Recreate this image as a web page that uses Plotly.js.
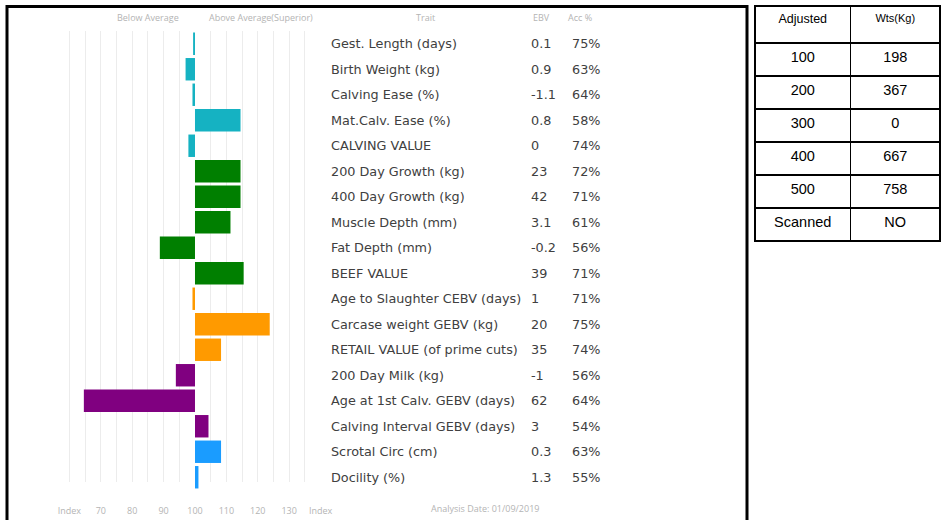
<!DOCTYPE html>
<html>
<head>
<meta charset="utf-8">
<script src="https://cdn.plot.ly/plotly-3.0.1.min.js"></script>
<style>html,body{margin:0;padding:0;background:#fff;}#chart{width:944px;height:520px;}</style>
</head>
<body>
<div id="chart"></div>
<script>
// ---- data ----
const traits = ["Gest. Length (days)", "Birth Weight (kg)", "Calving Ease (%)", "Mat.Calv. Ease (%)", "CALVING VALUE",
  "200 Day Growth (kg)", "400 Day Growth (kg)", "Muscle Depth (mm)", "Fat Depth (mm)", "BEEF VALUE",
  "Age to Slaughter CEBV (days)", "Carcase weight GEBV (kg)", "RETAIL VALUE (of prime cuts)",
  "200 Day Milk (kg)", "Age at 1st Calv. GEBV (days)", "Calving Interval GEBV (days)",
  "Scrotal Circ (cm)", "Docility (%)"];
const ebv = ["0.1", "0.9", "-1.1", "0.8", "0", "23", "42", "3.1", "-0.2", "39", "1", "20", "35", "-1", "62", "3", "0.3", "1.3"];
const acc = ["75%", "63%", "64%", "58%", "74%", "72%", "71%", "61%", "56%", "71%", "71%", "75%", "74%", "56%", "64%", "54%", "63%", "55%"];
const indexValues = [99.4, 97.0, 99.2, 114.5, 97.9, 114.5, 114.5, 111.3, 88.8, 115.5, 99.2, 123.8, 108.3, 93.9, 64.6, 104.3, 108.3, 101.1];
const groups = ["calving", "calving", "calving", "calving", "calving", "growth", "growth", "growth", "growth", "growth",
  "carcase", "carcase", "carcase", "maternal", "maternal", "maternal", "other", "other"];
const groupColors = {calving: "#15b2c2", growth: "#007f00", carcase: "#ff9a00", maternal: "#800080", other: "#1a9cff"};
const indexBase = 100;
const gridVals = [60, 65, 70, 75, 80, 85, 90, 95, 105, 110, 115, 120, 125, 130, 135];
const axisTickVals = [60, 70, 80, 90, 100, 110, 120, 130, 140];
const axisTickText = ["Index", "70", "80", "90", "100", "110", "120", "130", "Index"];
const headerLabels = ["Below Average", "Above Average(Superior)", "Trait", "EBV", "Acc %"];
const analysisDate = "Analysis Date: 01/09/2019";
const tableHeader = ["Adjusted", "Wts(Kg)"];
const tableCol1 = ["100", "200", "300", "400", "500", "Scanned"];
const tableCol2 = ["198", "367", "0", "667", "758", "NO"];

// ---- layout helpers (pixel -> paper) ----
const W = 944, H = 520;
const px = v => v / W;
const py = v => (H - v) / H;

// grid subplot (drawn first, underneath)
const gridTrace = {
  type: "scatter", mode: "lines", x: [null], y: [null],
  xaxis: "x", yaxis: "y", showlegend: false, hoverinfo: "skip"
};
// bar subplot (drawn on top)
const barTrace = {
  type: "bar", orientation: "h",
  y: traits,
  x: indexValues.map(v => v - indexBase),
  base: indexBase,
  marker: {color: groups.map(g => groupColors[g]), line: {width: 0}},
  hoverinfo: "skip",
  xaxis: "x2", yaxis: "y2"
};

const textFont = () => ({family: "DejaVu Sans, sans-serif", size: 12.8, color: "#404040"});
const headFont = () => ({family: "Open Sans, sans-serif", size: 9, color: "#b4b4b4"});
const annotations = [];
traits.forEach((t, i) => {
  annotations.push({xref: "paper", yref: "y2", x: px(329), y: t, xanchor: "left", yanchor: "middle", text: t, showarrow: false, font: textFont()});
  annotations.push({xref: "paper", yref: "y2", x: px(529), y: t, xanchor: "left", yanchor: "middle", text: ebv[i], showarrow: false, font: textFont()});
  annotations.push({xref: "paper", yref: "y2", x: px(570), y: t, xanchor: "left", yanchor: "middle", text: acc[i], showarrow: false, font: textFont()});
});
const headerX = [148, 261, 425, 541, 580];
headerLabels.forEach((h, i) => {
  annotations.push({xref: "paper", yref: "paper", x: px(headerX[i]), y: py(18), xanchor: "center", yanchor: "middle", text: h, showarrow: false, font: headFont()});
});
annotations.push({xref: "paper", yref: "paper", x: px(485), y: py(508), xanchor: "center", yanchor: "middle", text: analysisDate, showarrow: false, font: headFont()});

const tableTrace = {
  type: "table",
  domain: {x: [px(755), px(941)], y: [py(242), py(6)]},
  columnwidth: [96, 90],
  header: {
    values: tableHeader,
    align: "center",
    height: 37,
    line: {color: "#000", width: 1.5},
    fill: {color: "#fff"},
    font: {family: "Liberation Sans, Arial, sans-serif", size: [12.5, 11], color: "#000"}
  },
  cells: {
    values: [tableCol1, tableCol2],
    align: "center",
    height: 33,
    line: {color: "#000", width: 1.5},
    fill: {color: "#fff"},
    font: {family: "Liberation Sans, Arial, sans-serif", size: 14.5, color: "#000"}
  }
};

const xRange = [47.45, 143];
const layout = {
  width: W, height: H,
  margin: {l: 0, r: 0, t: 0, b: 0},
  paper_bgcolor: "#fff", plot_bgcolor: "rgba(0,0,0,0)",
  showlegend: false,
  bargap: 0.12,
  xaxis: {
    domain: [px(30), px(330)], anchor: "y", range: xRange, fixedrange: true,
    tickmode: "array", tickvals: gridVals, showticklabels: false,
    showgrid: true, gridcolor: "#ececec", gridwidth: 1, zeroline: false, showline: false, ticks: ""
  },
  yaxis: {
    domain: [py(482), py(31)], anchor: "x", range: [0, 1],
    showticklabels: false, showgrid: false, zeroline: false, showline: false, ticks: "", fixedrange: true
  },
  xaxis2: {
    domain: [px(30), px(330)], anchor: "y2", range: xRange, fixedrange: true,
    tickmode: "array", tickvals: axisTickVals, ticktext: axisTickText,
    showgrid: false, zeroline: false, showline: false,
    ticks: "outside", ticklen: 12, tickcolor: "rgba(0,0,0,0)",
    tickfont: headFont()
  },
  yaxis2: {
    domain: [py(490), py(31)], anchor: "x2", type: "category", range: [traits.length - 0.5, -0.5],
    showticklabels: false, showgrid: false, zeroline: false, showline: false, ticks: "", fixedrange: true
  },
  shapes: [{
    type: "rect", xref: "paper", yref: "paper",
    x0: px(7), x1: px(747), y0: -0.05, y1: py(6.5),
    line: {color: "#000", width: 3}, fillcolor: "rgba(0,0,0,0)"
  }],
  annotations: annotations
};

Plotly.newPlot("chart", [gridTrace, barTrace, tableTrace], layout, {displayModeBar: false, staticPlot: true});
</script>
</body>
</html>
